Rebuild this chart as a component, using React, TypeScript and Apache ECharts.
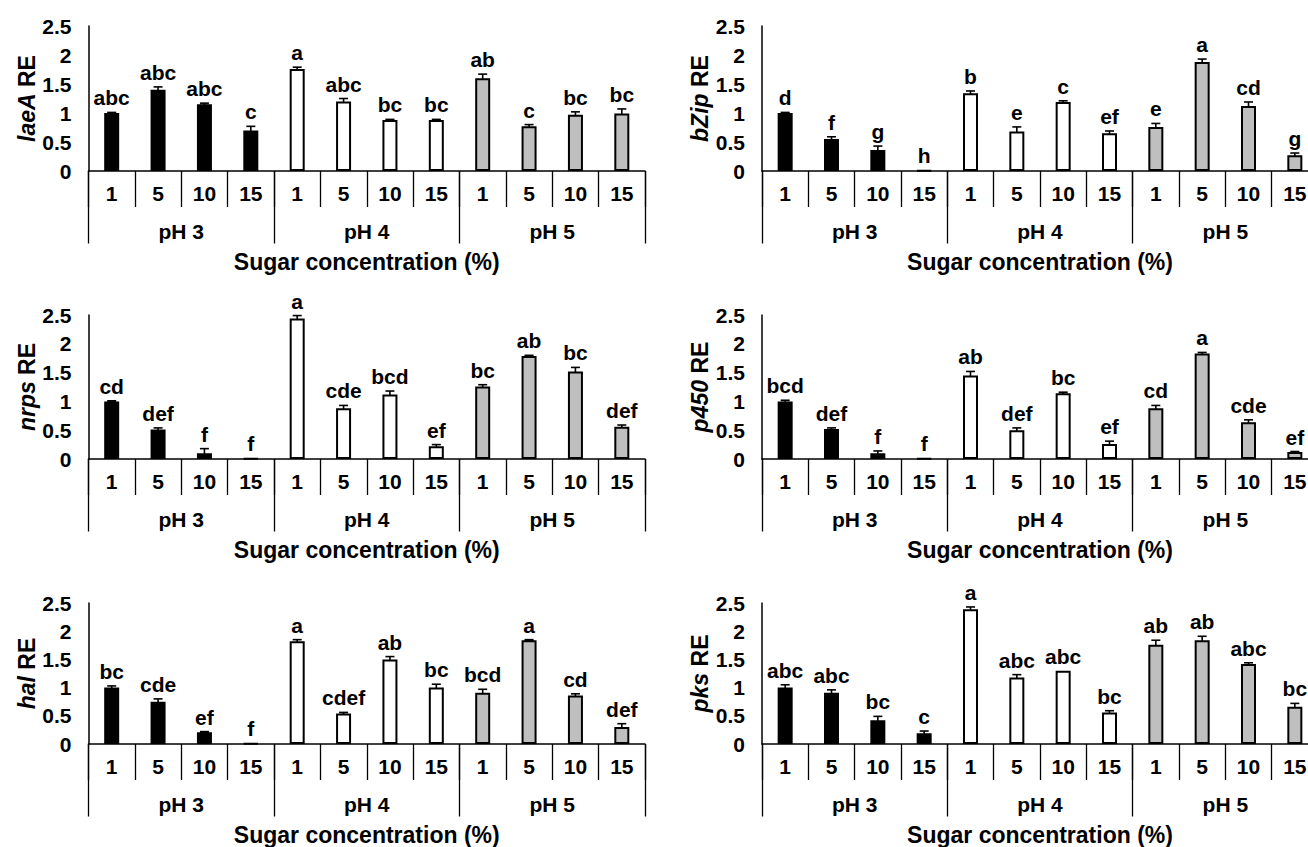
import React, { useEffect, useRef } from "react";
import * as echarts from "echarts";

// ---------- data ----------
const sugarLevels = ["1", "5", "10", "15", "1", "5", "10", "15", "1", "5", "10", "15"];
const phGroups = ["pH 3", "pH 4", "pH 5"];
const groupColors = ["#000000", "#ffffff", "#bfbfbf"];
const xTitle = "Sugar concentration (%)";
const yMin = 0;
const yMax = 2.5;
const yStep = 0.5;

const genes = ["laeA", "bZip", "nrps", "p450", "hal", "pks"];

const laeAValues = [1.0, 1.4, 1.15, 0.7, 1.76, 1.2, 0.88, 0.88, 1.6, 0.77, 0.97, 0.99];
const laeAErrors = [0.01, 0.05, 0.02, 0.07, 0.03, 0.05, 0.01, 0.01, 0.07, 0.03, 0.05, 0.08];
const laeALetters = ["abc", "abc", "abc", "c", "a", "abc", "bc", "bc", "ab", "c", "bc", "bc"];

const bZipValues = [1.0, 0.55, 0.36, 0.01, 1.34, 0.68, 1.19, 0.65, 0.76, 1.88, 1.12, 0.27];
const bZipErrors = [0.01, 0.04, 0.07, 0.0, 0.04, 0.08, 0.02, 0.04, 0.06, 0.05, 0.07, 0.04];
const bZipLetters = ["d", "f", "g", "h", "b", "e", "c", "ef", "e", "a", "cd", "g"];

const nrpsValues = [1.0, 0.51, 0.1, 0.01, 2.44, 0.88, 1.12, 0.22, 1.26, 1.79, 1.52, 0.56];
const nrpsErrors = [0.01, 0.03, 0.08, 0.0, 0.05, 0.05, 0.06, 0.03, 0.03, 0.01, 0.07, 0.03];
const nrpsLetters = ["cd", "def", "f", "f", "a", "cde", "bcd", "ef", "bc", "ab", "bc", "def"];

const p450Values = [1.0, 0.52, 0.1, 0.01, 1.45, 0.5, 1.14, 0.26, 0.88, 1.83, 0.64, 0.12];
const p450Errors = [0.02, 0.02, 0.04, 0.0, 0.07, 0.04, 0.02, 0.05, 0.05, 0.02, 0.04, 0.01];
const p450Letters = ["bcd", "def", "f", "f", "ab", "def", "bc", "ef", "cd", "a", "cde", "ef"];

const halValues = [1.0, 0.75, 0.21, 0.01, 1.82, 0.54, 1.5, 1.0, 0.91, 1.84, 0.86, 0.3];
const halErrors = [0.03, 0.05, 0.01, 0.0, 0.03, 0.02, 0.05, 0.06, 0.06, 0.01, 0.03, 0.06];
const halLetters = ["bc", "cde", "ef", "f", "a", "cdef", "ab", "bc", "bcd", "a", "cd", "def"];

const pksValues = [1.0, 0.91, 0.42, 0.19, 2.39, 1.18, 1.3, 0.56, 1.76, 1.84, 1.42, 0.66];
const pksErrors = [0.05, 0.05, 0.07, 0.04, 0.04, 0.05, 0.0, 0.03, 0.08, 0.07, 0.02, 0.06];
const pksLetters = ["abc", "abc", "bc", "c", "a", "abc", "abc", "bc", "ab", "ab", "abc", "bc"];

const panelValues = [laeAValues, bZipValues, nrpsValues, p450Values, halValues, pksValues];
const panelErrors = [laeAErrors, bZipErrors, nrpsErrors, p450Errors, halErrors, pksErrors];
const panelLetters = [laeALetters, bZipLetters, nrpsLetters, p450Letters, halLetters, pksLetters];

// ---------- layout ----------
const FONT = '"Liberation Sans", Arial, Helvetica, sans-serif';
const colLeft = [88.5, 762];
const colWidth = [556.5, 556];
const rowTop = [26, 315, 603];
const rowHeight = [145, 144, 144];

function buildOption() {
  const grid: any[] = [];
  const xAxis: any[] = [];
  const yAxis: any[] = [];
  const series: any[] = [];
  const txt = { color: "#000", fontFamily: FONT, fontWeight: "bold" };

  genes.forEach((gene, p) => {
    const col = p % 2;
    const row = Math.floor(p / 2);
    grid.push({
      left: colLeft[col],
      top: rowTop[row],
      width: colWidth[col],
      height: rowHeight[row],
      containLabel: false,
    });
    xAxis.push({
      type: "category",
      gridIndex: p,
      position: "bottom",
      data: sugarLevels,
      axisLine: { show: true, onZero: false, lineStyle: { color: "#000", width: 1.5 } },
      axisTick: { show: true, interval: 0, length: 36, lineStyle: { color: "#000", width: 1.3 } },
      axisLabel: { interval: 0, margin: 12, fontSize: 21, ...txt },
      splitLine: { show: false },
    });
    xAxis.push({
      type: "category",
      gridIndex: p,
      position: "bottom",
      data: phGroups,
      axisLine: { show: false },
      axisTick: { show: true, interval: 0, length: 72.5, lineStyle: { color: "#000", width: 1.3 } },
      axisLabel: { interval: 0, margin: 50, fontSize: 21, ...txt },
      splitLine: { show: false },
      name: xTitle,
      nameLocation: "middle",
      nameGap: 79,
      nameTextStyle: { fontSize: 23, ...txt },
    });
    yAxis.push({
      type: "value",
      gridIndex: p,
      min: yMin,
      max: yMax,
      interval: yStep,
      axisLine: { show: true, lineStyle: { color: "#000", width: 1.5 } },
      axisTick: { show: false },
      splitLine: { show: false },
      axisLabel: { margin: 17, fontSize: 21, ...txt },
      name: "{i|" + gene + "} {n|RE}",
      nameLocation: "middle",
      nameGap: 50,
      nameRotate: 90,
      nameTextStyle: {
        fontSize: 23,
        ...txt,
        rich: {
          i: { fontSize: 23, fontStyle: "italic", ...txt },
          n: { fontSize: 23, ...txt },
        },
      },
    });

    const values = panelValues[p];
    const errs = panelErrors[p];
    const letters = panelLetters[p];

    series.push({
      type: "bar",
      xAxisIndex: p * 2,
      yAxisIndex: p,
      barWidth: 15,
      data: values.map((v, i) => ({
        value: v,
        itemStyle: { color: groupColors[Math.floor(i / 4)] },
      })),
      itemStyle: { borderColor: "#000", borderWidth: 2 },
      silent: true,
    });

    series.push({
      type: "custom",
      xAxisIndex: p * 2,
      yAxisIndex: p,
      clip: false,
      silent: true,
      data: values.map((v, i) => [i, v, errs[i]]),
      renderItem: (params: any, api: any) => {
        const i = api.value(0);
        const v = api.value(1);
        const e = api.value(2);
        const top = api.coord([i, v + e]);
        const bot = api.coord([i, Math.max(v - e, 0)]);
        const hw = 4.5;
        const children: any[] = [];
        if (e > 0.005) {
          const ls = { stroke: "#000", lineWidth: 1.6 };
          children.push({ type: "line", shape: { x1: top[0], y1: top[1], x2: bot[0], y2: bot[1] }, style: ls });
          children.push({ type: "line", shape: { x1: top[0] - hw, y1: top[1], x2: top[0] + hw, y2: top[1] }, style: ls });
          children.push({ type: "line", shape: { x1: bot[0] - hw, y1: bot[1], x2: bot[0] + hw, y2: bot[1] }, style: ls });
        }
        children.push({
          type: "text",
          x: top[0],
          y: top[1] - 4,
          style: {
            text: letters[params.dataIndex],
            fill: "#000",
            fontSize: 21,
            fontWeight: "bold",
            fontFamily: FONT,
            align: "center",
            verticalAlign: "bottom",
          },
        });
        return { type: "group", children };
      },
    });
  });

  return {
    animation: false,
    backgroundColor: "#ffffff",
    grid,
    xAxis,
    yAxis,
    series,
  };
}

export default function App() {
  const ref = useRef<HTMLDivElement>(null);
  useEffect(() => {
    if (!ref.current) return;
    const chart = echarts.init(ref.current, undefined, { renderer: "svg" });
    chart.setOption(buildOption());
    return () => chart.dispose();
  }, []);
  return (
    <div
      style={{
        position: "fixed",
        left: 0,
        top: 0,
        width: 1308,
        height: 847,
        overflow: "hidden",
        background: "#fff",
      }}
    >
      <div ref={ref} style={{ width: 1340, height: 847 }} />
    </div>
  );
}
